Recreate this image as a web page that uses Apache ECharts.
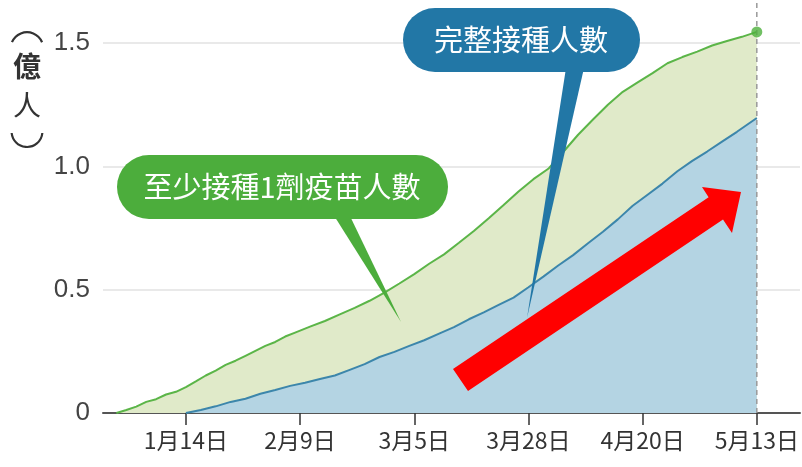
<!DOCTYPE html>
<html><head><meta charset="utf-8">
<script src="https://cdn.jsdelivr.net/npm/echarts@6/dist/echarts.min.js"></script>
<style>html,body{margin:0;padding:0;background:#fff}#c{width:802px;height:467px}</style>
</head><body><div id="c"></div>
<script>
// x = days index (0 = 1月14日), each label step = 23 units
const tickPositions = [0, 23, 46, 69, 92, 115];
const tickLabels = ['1月14日', '2月9日', '3月5日', '3月28日', '4月20日', '5月13日'];
const yTicks = [0, 0.5, 1.0, 1.5];

const greenX = [-14,-12,-10,-8,-6,-4,-2,0,2,4,6,8,10,12,14,16,18,20,22,25,28,31,34,37,40,43,46,49,52,55,58,61,64,67,70,73,76,79,82,85,88,91,94,97,100,103,106,109,112,115];
const greenY = [0,0.012,0.026,0.045,0.056,0.075,0.086,0.105,0.128,0.152,0.172,0.195,0.212,0.232,0.252,0.272,0.288,0.31,0.326,0.35,0.373,0.40,0.426,0.455,0.488,0.525,0.563,0.605,0.643,0.69,0.738,0.79,0.843,0.898,0.948,0.99,1.058,1.128,1.19,1.25,1.302,1.34,1.378,1.418,1.443,1.465,1.49,1.508,1.525,1.545];

const blueX = [0,3,6,9,12,15,18,21,24,27,30,33,36,39,42,45,48,51,54,57,60,63,66,69,72,75,78,81,84,87,90,93,96,99,102,105,108,111,115];
const blueY = [0,0.012,0.027,0.045,0.058,0.078,0.093,0.11,0.123,0.138,0.152,0.175,0.198,0.227,0.248,0.272,0.295,0.322,0.348,0.38,0.408,0.438,0.468,0.51,0.553,0.598,0.64,0.688,0.735,0.785,0.84,0.885,0.93,0.98,1.022,1.06,1.1,1.14,1.196];

const greenLabel = '至少接種1劑疫苗人數';
const blueLabel = '完整接種人數';
const yUnit = ['億', '人'];

const zip = (xs, ys) => xs.map((x, i) => [x, ys[i]]);
const FONT = '"Noto Sans CJK TC", "Noto Sans", sans-serif';

const chart = echarts.init(document.getElementById('c'), null, {renderer: 'canvas'});
const lastG = greenX.length - 1;

chart.setOption({
  animation: false,
  backgroundColor: '#fff',
  grid: {left: 103, right: 2, top: 43, bottom: 54},
  xAxis: {
    type: 'value', min: -16.7, max: 123.7,
    axisLine: {show: true, lineStyle: {color: '#555', width: 2}},
    axisTick: {show: true, customValues: tickPositions, length: 12, lineStyle: {color: '#333', width: 1.5}},
    axisLabel: {
      customValues: tickPositions,
      formatter: v => tickLabels[tickPositions.indexOf(v)],
      color: '#333', fontSize: 23, fontFamily: FONT, margin: 16
    },
    splitLine: {show: false}
  },
  yAxis: {
    type: 'value', min: 0, max: 1.5, interval: 0.5,
    axisLine: {show: false}, axisTick: {show: false},
    axisLabel: {
      formatter: v => (v === 0 ? '0' : v.toFixed(1)),
      color: '#444', fontSize: 26, fontFamily: '"Liberation Sans Narrow", "Liberation Sans", sans-serif', margin: 13
    },
    splitLine: {lineStyle: {color: '#e2e2e2', width: 1.5}}
  },
  series: [
    {
      type: 'line', data: zip(greenX, greenY), showSymbol: false, symbol: 'none', clip: false,
      lineStyle: {color: '#5bb548', width: 2},
      areaStyle: {color: '#e0eac9', opacity: 1}, z: 2
    },
    {
      type: 'line', data: zip(blueX, blueY), showSymbol: false, symbol: 'none', clip: false,
      lineStyle: {color: '#3c86ab', width: 2},
      areaStyle: {color: '#b4d4e3', opacity: 1}, z: 3
    },
    {
      type: 'line', data: [[tickPositions[5], 0], [tickPositions[5], 1.75]], clip: false,
      symbol: 'none', lineStyle: {color: '#999', width: 1.5, type: [5, 4]}, z: 4
    },
    {
      type: 'scatter', data: [[greenX[lastG], greenY[lastG]]], symbolSize: 11, clip: false,
      itemStyle: {color: '#4db03c'}, z: 5
    }
  ],
  graphic: [
    // y unit label with vertical brackets
    {type: 'arc', shape: {cx: 27, cy: 48.5, r: 16.3, startAngle: 3.54, endAngle: 5.89, clockwise: true}, style: {stroke: '#333', lineWidth: 2.2, fill: null}},
    {type: 'text', left: 13, top: 52, style: {text: yUnit[0], font: 'bold 28px ' + FONT, fill: '#333'}},
    {type: 'text', left: 13, top: 91, style: {text: yUnit[1], font: '28px ' + FONT, fill: '#333'}},
    {type: 'arc', shape: {cx: 27, cy: 131.6, r: 15.4, startAngle: 0.09, endAngle: 3.05, clockwise: true}, style: {stroke: '#333', lineWidth: 2.2, fill: null}},
    // green callout
    {type: 'polygon', shape: {points: [[333, 214], [349, 214], [401, 322]]}, style: {fill: '#4cad3c'}, z: 10},
    {type: 'rect', shape: {x: 117, y: 155, width: 331, height: 64, r: 32}, style: {fill: '#4cad3c'}, z: 10},
    {type: 'text', x: 282, y: 187, style: {text: greenLabel, font: '29px ' + FONT, fill: '#fff', align: 'center', verticalAlign: 'middle'}, z: 11},
    // blue callout
    {type: 'polygon', shape: {points: [[566, 68], [584, 68], [527, 318]]}, style: {fill: '#2277a6'}, z: 10},
    {type: 'rect', shape: {x: 403, y: 8, width: 237, height: 64, r: 32}, style: {fill: '#2277a6'}, z: 10},
    {type: 'text', x: 521, y: 40, style: {text: blueLabel, font: '29px ' + FONT, fill: '#fff', align: 'center', verticalAlign: 'middle'}, z: 11},
    // red arrow
    {type: 'polygon', shape: {points: [[453, 369], [708.6, 197.2], [702, 187], [741, 192], [732, 233], [723, 219.6], [468, 391]]}, style: {fill: '#ff0000'}, z: 12}
  ]
});
</script></body></html>
